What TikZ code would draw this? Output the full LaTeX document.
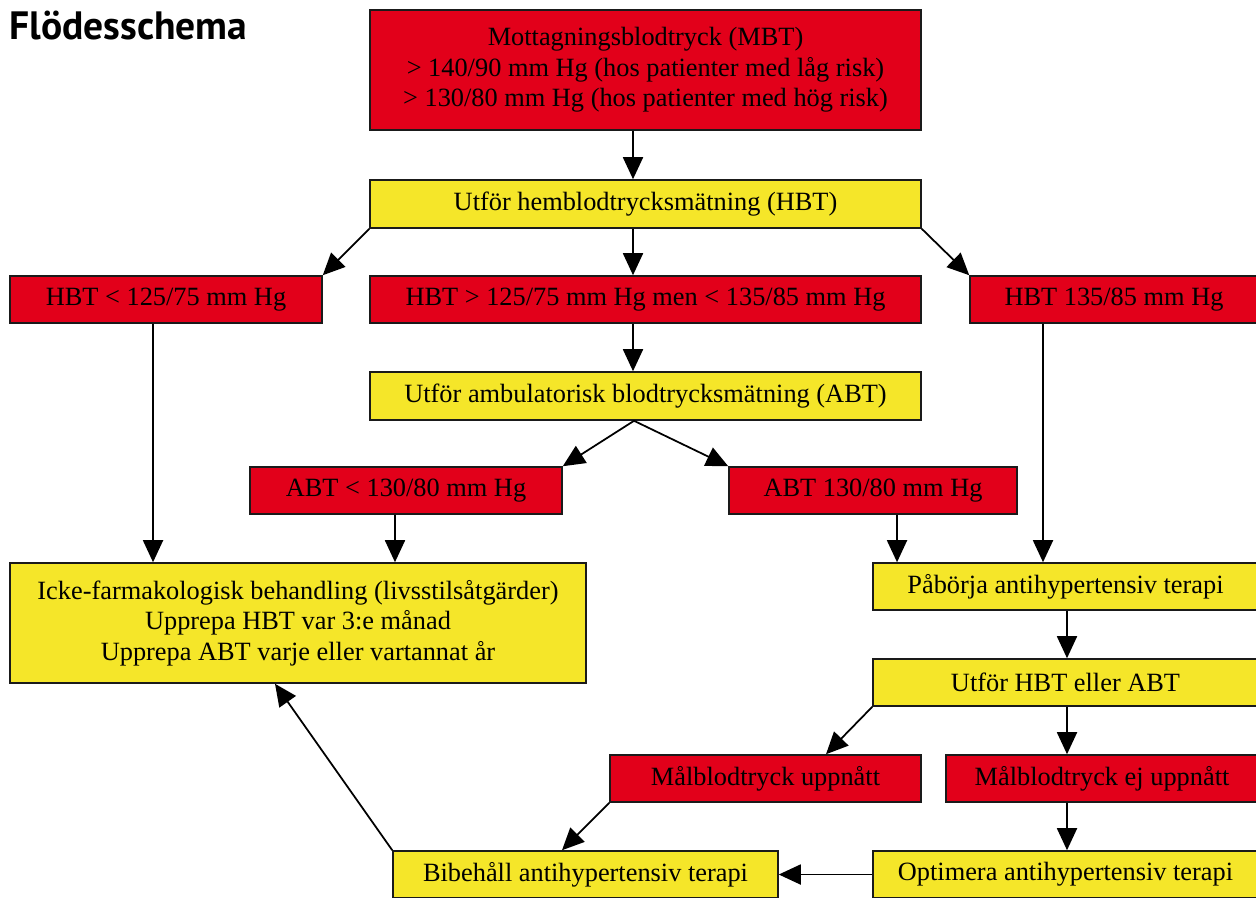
\documentclass[tikz,border=0pt]{standalone}
\usepackage{fontspec}
\usepackage{xcolor}
\usepackage{tikz}
\usetikzlibrary{arrows.meta}
\setmainfont{Liberation Serif}
\newfontfamily\titlefont{PT Sans}
\definecolor{FSRed}{HTML}{E2001A}
\definecolor{FSYellow}{HTML}{F5E629}
\definecolor{FSLine}{HTML}{1A1A1A}

\begin{document}
\begin{tikzpicture}[x=0.02cm,y=-0.02cm,
  box/.style={draw=FSLine,line width=.9pt,align=center,inner sep=0pt,
    font=\fontsize{15}{17.3}\selectfont},
  redbox/.style={box,fill=FSRed},
  yellowbox/.style={box,fill=FSYellow},
  arr/.style={-{Triangle[length=.44cm,width=.4cm]},line width=1pt,black}]
\path[use as bounding box] (0,0) rectangle (1256,897);
\clip (0,0) rectangle (1256,897);
\fill[white] (0,0) rectangle (1256,897);
\node[anchor=base west,inner sep=0pt,font=\titlefont\bfseries\fontsize{22.5}{26}\selectfont] (title) at (9,39) {Flödesschema};
\node[redbox,minimum width=11.02cm,minimum height=2.4cm] (mbt) at (645.5,70) {Mottagningsblodtryck (MBT)\\> 140/90 mm Hg (hos patienter med låg risk)\\> 130/80 mm Hg (hos patienter med hög risk)};
\node[yellowbox,minimum width=11.02cm,minimum height=.96cm] (hbt) at (645.5,204) {Utför hemblodtrycksmätning (HBT)};
\node[redbox,minimum width=6.24cm,minimum height=.94cm] (hbtlow) at (166,299.5) {HBT < 125/75 mm Hg};
\node[redbox,minimum width=11.02cm,minimum height=.94cm] (hbtmid) at (645.5,299.5) {HBT > 125/75 mm Hg men < 135/85 mm Hg};
\node[redbox,minimum width=5.76cm,minimum height=.94cm] (hbthigh) at (1114,299.5) {HBT 135/85 mm Hg};
\node[yellowbox,minimum width=11.02cm,minimum height=.96cm] (abt) at (645.5,396) {Utför ambulatorisk blodtrycksmätning (ABT)};
\node[redbox,minimum width=6.24cm,minimum height=.94cm] (abtlow) at (406,490.5) {ABT < 130/80 mm Hg};
\node[redbox,minimum width=5.76cm,minimum height=.94cm] (abthigh) at (873,490.5) {ABT 130/80 mm Hg};
\node[yellowbox,minimum width=11.52cm,minimum height=2.4cm] (icke) at (298,623) {Icke-farmakologisk behandling (livsstilsåtgärder)\\Upprepa HBT var 3:e månad\\Upprepa ABT varje eller vartannat år};
\node[yellowbox,minimum width=7.7cm,minimum height=.94cm] (start) at (1065.5,586.5) {Påbörja antihypertensiv terapi};
\node[yellowbox,minimum width=7.7cm,minimum height=.94cm] (check) at (1065.5,682.5) {Utför HBT eller ABT};
\node[redbox,minimum width=6.22cm,minimum height=.94cm] (goal) at (765.5,778.5) {Målblodtryck uppnått};
\node[redbox,minimum width=6.24cm,minimum height=.94cm] (nogoal) at (1102,778.5) {Målblodtryck ej uppnått};
\node[yellowbox,minimum width=7.7cm,minimum height=.94cm] (keep) at (585.5,874.5) {Bibehåll antihypertensiv terapi};
\node[yellowbox,minimum width=7.7cm,minimum height=.94cm] (optim) at (1065.5,874.5) {Optimera antihypertensiv terapi};
\draw[arr] ([xshift=-.25cm]mbt.south) -- ([xshift=-.25cm]hbt.north);
\draw[arr] (hbt.south west) -- (hbtlow.north east);
\draw[arr] ([xshift=-.25cm]hbt.south) -- ([xshift=-.25cm]hbtmid.north);
\draw[arr] (hbt.south east) -- (hbthigh.north west);
\draw[arr] ([xshift=-.26cm]hbtlow.south) -- ([xshift=-2.9cm]icke.north);
\draw[arr] ([xshift=-.25cm]hbtmid.south) -- ([xshift=-.25cm]abt.north);
\draw[arr] ([xshift=-.23cm]abt.south) -- (abtlow.north east);
\draw[arr] ([xshift=-.23cm]abt.south) -- (abthigh.north west);
\draw[arr] ([xshift=-.22cm]abtlow.south) -- ([xshift=1.94cm]icke.north);
\draw[arr] ([xshift=.48cm]abthigh.south) -- ([xshift=-3.37cm]start.north);
\draw[arr] ([xshift=-1.42cm]hbthigh.south) -- ([xshift=-.45cm]start.north);
\draw[arr] ([xshift=.03cm]start.south) -- ([xshift=.03cm]check.north);
\draw[arr] (check.south west) -- ([xshift=1.21cm]goal.north);
\draw[arr] ([xshift=.03cm]check.south) -- ([xshift=-.7cm]nogoal.north);
\draw[arr] (goal.south west) -- ([xshift=-.47cm]keep.north);
\draw[arr] ([xshift=-.7cm]nogoal.south) -- ([xshift=.03cm]optim.north);
\draw[arr] (optim.west) -- (keep.east);
\draw[arr] (keep.north west) -- ([xshift=-.46cm]icke.south);
\end{tikzpicture}
\end{document}
